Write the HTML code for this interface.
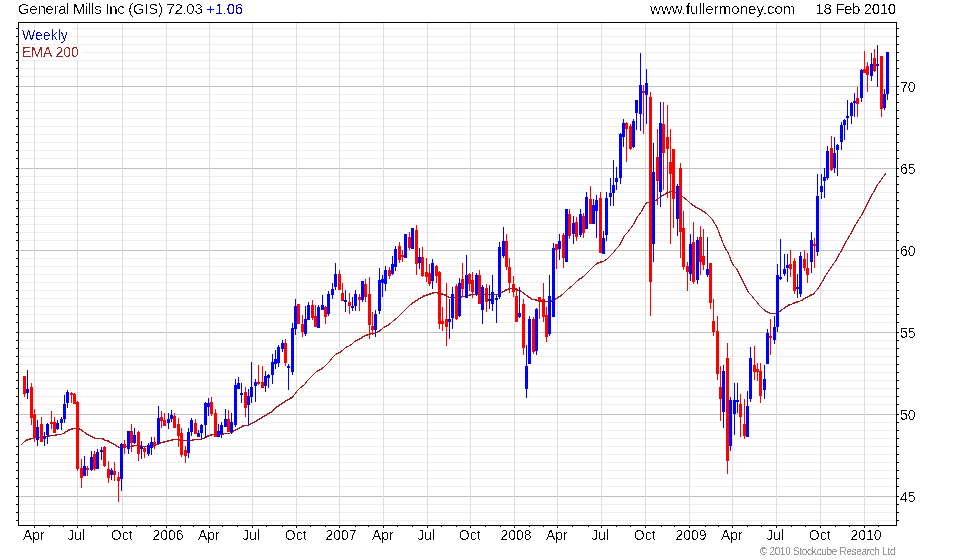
<!DOCTYPE html>
<html lang="en"><head><meta charset="utf-8"><title>General Mills Inc (GIS) Weekly</title>
<style>html,body{margin:0;padding:0;background:#fff}body{width:980px;height:560px;overflow:hidden}svg{display:block}text{font-family:"Liberation Sans",Arial,sans-serif;}</style>
</head><body>
<svg width="980" height="560" viewBox="0 0 980 560">
<rect x="0" y="0" width="980" height="560" fill="#fff"/>
<g shape-rendering="crispEdges">
<g fill="#efefef">
<rect x="20" y="28" width="875" height="1"/>
<rect x="20" y="36" width="875" height="1"/>
<rect x="20" y="44" width="875" height="1"/>
<rect x="20" y="52" width="875" height="1"/>
<rect x="20" y="60" width="875" height="1"/>
<rect x="20" y="68" width="875" height="1"/>
<rect x="20" y="76" width="875" height="1"/>
<rect x="20" y="94" width="875" height="1"/>
<rect x="20" y="102" width="875" height="1"/>
<rect x="20" y="110" width="875" height="1"/>
<rect x="20" y="118" width="875" height="1"/>
<rect x="20" y="126" width="875" height="1"/>
<rect x="20" y="134" width="875" height="1"/>
<rect x="20" y="142" width="875" height="1"/>
<rect x="20" y="150" width="875" height="1"/>
<rect x="20" y="158" width="875" height="1"/>
<rect x="20" y="176" width="875" height="1"/>
<rect x="20" y="184" width="875" height="1"/>
<rect x="20" y="192" width="875" height="1"/>
<rect x="20" y="200" width="875" height="1"/>
<rect x="20" y="208" width="875" height="1"/>
<rect x="20" y="216" width="875" height="1"/>
<rect x="20" y="224" width="875" height="1"/>
<rect x="20" y="232" width="875" height="1"/>
<rect x="20" y="240" width="875" height="1"/>
<rect x="20" y="258" width="875" height="1"/>
<rect x="20" y="266" width="875" height="1"/>
<rect x="20" y="274" width="875" height="1"/>
<rect x="20" y="282" width="875" height="1"/>
<rect x="20" y="290" width="875" height="1"/>
<rect x="20" y="298" width="875" height="1"/>
<rect x="20" y="306" width="875" height="1"/>
<rect x="20" y="314" width="875" height="1"/>
<rect x="20" y="322" width="875" height="1"/>
<rect x="20" y="340" width="875" height="1"/>
<rect x="20" y="348" width="875" height="1"/>
<rect x="20" y="356" width="875" height="1"/>
<rect x="20" y="364" width="875" height="1"/>
<rect x="20" y="372" width="875" height="1"/>
<rect x="20" y="380" width="875" height="1"/>
<rect x="20" y="388" width="875" height="1"/>
<rect x="20" y="396" width="875" height="1"/>
<rect x="20" y="404" width="875" height="1"/>
<rect x="20" y="422" width="875" height="1"/>
<rect x="20" y="430" width="875" height="1"/>
<rect x="20" y="438" width="875" height="1"/>
<rect x="20" y="446" width="875" height="1"/>
<rect x="20" y="454" width="875" height="1"/>
<rect x="20" y="462" width="875" height="1"/>
<rect x="20" y="470" width="875" height="1"/>
<rect x="20" y="478" width="875" height="1"/>
<rect x="20" y="486" width="875" height="1"/>
<rect x="20" y="504" width="875" height="1"/>
<rect x="20" y="512" width="875" height="1"/>
<rect x="20" y="520" width="875" height="1"/>
</g>
<g fill="#c0c0c0">
<rect x="19" y="86" width="877" height="1"/>
<rect x="19" y="168" width="877" height="1"/>
<rect x="19" y="250" width="877" height="1"/>
<rect x="19" y="332" width="877" height="1"/>
<rect x="19" y="414" width="877" height="1"/>
<rect x="19" y="496" width="877" height="1"/>
</g>
<g fill="#dedede">
<rect x="34" y="23" width="1" height="501"/>
<rect x="77" y="23" width="1" height="501"/>
<rect x="122" y="23" width="1" height="501"/>
<rect x="166" y="23" width="1" height="501"/>
<rect x="209" y="23" width="1" height="501"/>
<rect x="252" y="23" width="1" height="501"/>
<rect x="296" y="23" width="1" height="501"/>
<rect x="339" y="23" width="1" height="501"/>
<rect x="383" y="23" width="1" height="501"/>
<rect x="427" y="23" width="1" height="501"/>
<rect x="470" y="23" width="1" height="501"/>
<rect x="514" y="23" width="1" height="501"/>
<rect x="557" y="23" width="1" height="501"/>
<rect x="601" y="23" width="1" height="501"/>
<rect x="645" y="23" width="1" height="501"/>
<rect x="689" y="23" width="1" height="501"/>
<rect x="732" y="23" width="1" height="501"/>
<rect x="776" y="23" width="1" height="501"/>
<rect x="820" y="23" width="1" height="501"/>
<rect x="864" y="23" width="1" height="501"/>
</g>
<rect x="19" y="28" width="52" height="15" fill="#fff"/><rect x="19" y="45" width="63" height="15" fill="#fff"/>
<defs><filter id="alE" x="0" y="0" width="980" height="560" filterUnits="userSpaceOnUse" color-interpolation-filters="sRGB"><feComponentTransfer><feFuncA type="discrete" tableValues="0 0 0 0 0 0 0 0 0 0 0 0 0 0 0 0 0 0 0 0 1 1 1 1 1 1 1 1 1 1 1 1 1 1 1 1 1 1 1 1 1"/></feComponentTransfer></filter></defs>
</g>
<g id="ema" filter="url(#alE)"><polyline fill="none" stroke="#a01c1c" stroke-width="1.2" stroke-linejoin="round" points="21.5,444.50 22.5,443.50 23.5,442.50 24.5,441.50 25.5,440.83 26.5,440.17 27.5,439.83 28.5,439.50 29.5,439.17 30.5,438.83 31.5,438.50 32.5,438.50 33.5,438.17 34.5,437.83 35.5,437.50 36.5,437.50 37.5,437.50 38.5,437.50 39.5,437.50 40.5,437.50 41.5,437.17 42.5,436.83 43.5,436.50 44.5,436.50 45.5,436.50 46.5,436.50 47.5,436.50 48.5,436.17 49.5,435.83 50.5,435.50 51.5,435.50 52.5,435.50 53.5,435.50 54.5,435.50 55.5,435.17 56.5,434.83 57.5,434.50 58.5,434.50 59.5,434.50 60.5,434.50 61.5,434.17 62.5,433.83 63.5,433.17 64.5,432.83 65.5,432.17 66.5,431.50 67.5,430.83 68.5,430.17 69.5,429.83 70.5,429.50 71.5,429.17 72.5,428.83 73.5,428.50 74.5,428.50 75.5,428.50 76.5,428.50 77.5,428.50 78.5,428.50 79.5,428.83 80.5,429.50 81.5,430.17 82.5,430.83 83.5,431.50 84.5,432.50 85.5,433.17 86.5,433.83 87.5,434.17 88.5,434.83 89.5,435.17 90.5,435.83 91.5,436.17 92.5,436.83 93.5,437.17 94.5,437.83 95.5,438.17 96.5,438.50 97.5,438.50 98.5,438.50 99.5,438.50 100.5,438.50 101.5,438.50 102.5,438.83 103.5,439.17 104.5,439.83 105.5,440.17 106.5,440.50 107.5,440.83 108.5,441.17 109.5,441.83 110.5,442.17 111.5,442.83 112.5,443.17 113.5,443.83 114.5,444.50 115.5,445.17 116.5,445.83 117.5,446.50 118.5,447.17 119.5,447.50 120.5,447.50 121.5,447.50 122.5,447.50 123.5,447.50 124.5,447.17 125.5,446.83 126.5,446.50 127.5,446.50 128.5,446.50 129.5,446.50 130.5,446.50 131.5,446.50 132.5,446.17 133.5,445.83 134.5,445.50 135.5,445.50 136.5,445.50 137.5,445.50 138.5,445.50 139.5,445.83 140.5,446.17 141.5,446.50 142.5,446.50 143.5,446.50 144.5,446.50 145.5,446.50 146.5,446.50 147.5,446.50 148.5,446.50 149.5,446.50 150.5,446.50 151.5,446.50 152.5,446.17 153.5,445.83 154.5,445.50 155.5,445.17 156.5,444.83 157.5,444.17 158.5,443.83 159.5,443.17 160.5,442.83 161.5,442.50 162.5,442.50 163.5,442.17 164.5,441.83 165.5,441.50 166.5,441.50 167.5,441.17 168.5,440.83 169.5,440.50 170.5,440.50 171.5,440.17 172.5,439.83 173.5,439.50 174.5,439.50 175.5,439.50 176.5,439.50 177.5,439.50 178.5,439.50 179.5,439.83 180.5,440.17 181.5,440.50 182.5,440.50 183.5,440.50 184.5,440.50 185.5,440.50 186.5,440.50 187.5,440.50 188.5,440.50 189.5,440.50 190.5,440.50 191.5,440.50 192.5,440.17 193.5,439.83 194.5,439.50 195.5,439.50 196.5,439.50 197.5,439.50 198.5,439.50 199.5,439.50 200.5,439.50 201.5,439.17 202.5,438.83 203.5,438.17 204.5,437.83 205.5,437.17 206.5,436.83 207.5,436.17 208.5,435.83 209.5,435.50 210.5,435.17 211.5,434.83 212.5,434.50 213.5,434.50 214.5,434.50 215.5,434.50 216.5,434.50 217.5,434.50 218.5,434.50 219.5,434.50 220.5,434.50 221.5,434.50 222.5,434.17 223.5,433.83 224.5,433.50 225.5,433.50 226.5,433.50 227.5,433.50 228.5,433.50 229.5,433.17 230.5,432.83 231.5,432.17 232.5,431.83 233.5,431.17 234.5,430.50 235.5,429.83 236.5,429.17 237.5,428.83 238.5,428.17 239.5,427.83 240.5,427.17 241.5,426.83 242.5,426.17 243.5,425.83 244.5,425.50 245.5,425.50 246.5,425.50 247.5,425.17 248.5,424.83 249.5,424.17 250.5,423.83 251.5,423.17 252.5,422.83 253.5,422.17 254.5,421.83 255.5,421.17 256.5,420.83 257.5,420.17 258.5,419.50 259.5,418.83 260.5,418.17 261.5,417.83 262.5,417.17 263.5,416.50 264.5,415.83 265.5,415.17 266.5,414.83 267.5,414.17 268.5,413.50 269.5,412.83 270.5,412.17 271.5,411.83 272.5,411.17 273.5,410.17 274.5,408.83 275.5,407.83 276.5,407.17 277.5,406.50 278.5,405.83 279.5,405.17 280.5,404.50 281.5,403.83 282.5,403.17 283.5,402.50 284.5,401.83 285.5,401.17 286.5,400.50 287.5,399.83 288.5,399.17 289.5,398.83 290.5,398.17 291.5,397.83 292.5,396.83 293.5,395.83 294.5,394.50 295.5,393.17 296.5,391.83 297.5,390.50 298.5,389.50 299.5,388.50 300.5,387.50 301.5,386.83 302.5,386.17 303.5,385.50 304.5,384.50 305.5,383.17 306.5,381.83 307.5,380.50 308.5,379.50 309.5,378.50 310.5,377.50 311.5,376.50 312.5,375.50 313.5,374.50 314.5,373.50 315.5,372.50 316.5,371.50 317.5,370.83 318.5,370.17 319.5,369.83 320.5,369.17 321.5,368.83 322.5,368.17 323.5,367.50 324.5,366.50 325.5,365.50 326.5,364.50 327.5,363.50 328.5,362.50 329.5,361.50 330.5,360.17 331.5,358.83 332.5,357.50 333.5,356.50 334.5,355.50 335.5,354.50 336.5,353.83 337.5,353.17 338.5,352.83 339.5,352.17 340.5,351.83 341.5,351.17 342.5,350.50 343.5,349.50 344.5,348.50 345.5,347.50 346.5,346.83 347.5,346.50 348.5,346.17 349.5,345.83 350.5,345.17 351.5,344.50 352.5,343.50 353.5,342.50 354.5,341.50 355.5,340.83 356.5,340.17 357.5,339.83 358.5,339.17 359.5,338.83 360.5,338.17 361.5,337.83 362.5,337.17 363.5,336.50 364.5,335.83 365.5,335.50 366.5,335.17 367.5,334.83 368.5,334.50 369.5,334.17 370.5,333.83 371.5,333.50 372.5,333.50 373.5,333.50 374.5,333.50 375.5,333.17 376.5,332.83 377.5,332.17 378.5,331.50 379.5,330.83 380.5,330.17 381.5,329.50 382.5,328.50 383.5,327.50 384.5,326.83 385.5,326.17 386.5,325.83 387.5,325.17 388.5,324.83 389.5,324.17 390.5,323.50 391.5,322.50 392.5,321.50 393.5,320.50 394.5,319.83 395.5,319.17 396.5,318.50 397.5,317.50 398.5,316.50 399.5,315.50 400.5,314.50 401.5,313.50 402.5,312.50 403.5,311.50 404.5,310.50 405.5,309.50 406.5,308.50 407.5,307.50 408.5,306.50 409.5,305.50 410.5,304.50 411.5,303.83 412.5,303.17 413.5,302.50 414.5,301.83 415.5,301.17 416.5,300.50 417.5,299.83 418.5,299.17 419.5,298.50 420.5,297.83 421.5,297.17 422.5,296.83 423.5,296.17 424.5,295.83 425.5,295.50 426.5,295.17 427.5,294.83 428.5,294.50 429.5,294.17 430.5,293.83 431.5,293.50 432.5,293.17 433.5,292.83 434.5,292.50 435.5,292.50 436.5,292.50 437.5,292.83 438.5,293.17 439.5,293.50 440.5,293.50 441.5,293.83 442.5,294.17 443.5,294.50 444.5,294.83 445.5,295.17 446.5,295.83 447.5,296.17 448.5,296.83 449.5,297.17 450.5,297.50 451.5,297.50 452.5,297.50 453.5,297.50 454.5,297.50 455.5,297.50 456.5,297.50 457.5,297.50 458.5,297.50 459.5,297.50 460.5,297.17 461.5,296.83 462.5,296.50 463.5,296.50 464.5,296.50 465.5,296.17 466.5,295.83 467.5,295.50 468.5,295.50 469.5,295.17 470.5,294.83 471.5,294.50 472.5,294.50 473.5,294.50 474.5,294.50 475.5,294.50 476.5,294.50 477.5,294.50 478.5,294.50 479.5,294.50 480.5,294.50 481.5,294.50 482.5,294.50 483.5,294.50 484.5,294.50 485.5,294.50 486.5,294.50 487.5,294.50 488.5,294.50 489.5,294.50 490.5,294.50 491.5,294.50 492.5,294.50 493.5,294.50 494.5,294.50 495.5,294.83 496.5,294.83 497.5,294.83 498.5,294.17 499.5,293.50 500.5,292.83 501.5,292.17 502.5,291.83 503.5,291.17 504.5,290.83 505.5,290.17 506.5,289.83 507.5,289.50 508.5,289.17 509.5,288.83 510.5,288.50 511.5,288.50 512.5,288.50 513.5,288.50 514.5,288.50 515.5,288.83 516.5,289.17 517.5,289.83 518.5,290.17 519.5,290.50 520.5,290.83 521.5,291.50 522.5,292.50 523.5,293.17 524.5,293.83 525.5,294.50 526.5,295.50 527.5,296.17 528.5,296.83 529.5,297.50 530.5,298.17 531.5,298.83 532.5,299.17 533.5,299.50 534.5,299.50 535.5,299.83 536.5,300.17 537.5,300.50 538.5,300.50 539.5,300.50 540.5,300.50 541.5,300.83 542.5,301.17 543.5,301.50 544.5,301.50 545.5,301.50 546.5,301.50 547.5,301.50 548.5,301.50 549.5,301.50 550.5,301.17 551.5,300.83 552.5,300.50 553.5,300.17 554.5,299.83 555.5,299.17 556.5,298.50 557.5,297.83 558.5,297.17 559.5,296.50 560.5,295.83 561.5,295.17 562.5,294.50 563.5,293.50 564.5,292.50 565.5,291.50 566.5,290.50 567.5,289.50 568.5,288.50 569.5,287.83 570.5,287.17 571.5,286.50 572.5,285.50 573.5,284.50 574.5,283.50 575.5,282.50 576.5,281.50 577.5,280.50 578.5,279.83 579.5,279.17 580.5,278.50 581.5,277.83 582.5,277.17 583.5,276.50 584.5,275.50 585.5,274.50 586.5,273.50 587.5,272.50 588.5,271.50 589.5,270.50 590.5,269.50 591.5,268.50 592.5,267.50 593.5,266.50 594.5,265.50 595.5,264.50 596.5,263.83 597.5,263.17 598.5,262.83 599.5,262.50 600.5,262.17 601.5,261.83 602.5,261.50 603.5,261.17 604.5,260.83 605.5,260.17 606.5,259.50 607.5,258.50 608.5,257.50 609.5,256.50 610.5,255.50 611.5,254.50 612.5,253.50 613.5,252.50 614.5,251.17 615.5,249.83 616.5,248.50 617.5,247.50 618.5,246.50 619.5,245.17 620.5,243.50 621.5,241.50 622.5,239.50 623.5,237.50 624.5,235.83 625.5,234.50 626.5,233.50 627.5,232.50 628.5,231.17 629.5,229.83 630.5,228.50 631.5,227.17 632.5,225.83 633.5,224.17 634.5,222.50 635.5,220.50 636.5,218.50 637.5,216.83 638.5,215.50 639.5,214.17 640.5,212.83 641.5,211.17 642.5,209.50 643.5,207.50 644.5,205.83 645.5,204.17 646.5,203.17 647.5,202.50 648.5,202.50 649.5,202.50 650.5,202.50 651.5,202.17 652.5,201.83 653.5,201.17 654.5,200.83 655.5,200.17 656.5,199.83 657.5,199.17 658.5,198.50 659.5,197.50 660.5,196.83 661.5,196.17 662.5,195.50 663.5,194.83 664.5,194.17 665.5,193.83 666.5,193.17 667.5,192.83 668.5,192.50 669.5,192.17 670.5,191.83 671.5,191.50 672.5,191.83 673.5,192.17 674.5,192.50 675.5,192.50 676.5,192.83 677.5,193.17 678.5,193.83 679.5,194.17 680.5,194.83 681.5,195.50 682.5,196.50 683.5,197.50 684.5,198.17 685.5,198.83 686.5,199.50 687.5,200.50 688.5,201.50 689.5,202.50 690.5,203.50 691.5,204.17 692.5,204.83 693.5,205.50 694.5,206.17 695.5,206.83 696.5,207.17 697.5,207.83 698.5,208.17 699.5,208.83 700.5,209.50 701.5,210.17 702.5,210.83 703.5,211.50 704.5,212.17 705.5,212.83 706.5,213.50 707.5,214.50 708.5,215.50 709.5,216.50 710.5,217.50 711.5,218.50 712.5,219.83 713.5,221.50 714.5,223.17 715.5,224.83 716.5,226.50 717.5,228.83 718.5,231.17 719.5,233.83 720.5,236.50 721.5,239.17 722.5,241.83 723.5,244.17 724.5,246.50 725.5,248.50 726.5,250.17 727.5,251.83 728.5,253.83 729.5,256.17 730.5,259.17 731.5,261.50 732.5,263.83 733.5,265.17 734.5,266.50 735.5,267.50 736.5,268.83 737.5,270.50 738.5,272.50 739.5,274.50 740.5,276.50 741.5,278.50 742.5,280.50 743.5,282.50 744.5,284.50 745.5,286.50 746.5,288.50 747.5,290.50 748.5,292.17 749.5,293.50 750.5,294.50 751.5,295.50 752.5,296.83 753.5,298.17 754.5,299.50 755.5,300.50 756.5,301.50 757.5,302.83 758.5,304.17 759.5,305.50 760.5,306.50 761.5,307.50 762.5,308.50 763.5,309.50 764.5,310.17 765.5,310.83 766.5,311.17 767.5,311.83 768.5,312.17 769.5,312.83 770.5,313.17 771.5,313.50 772.5,313.50 773.5,313.50 774.5,313.50 775.5,313.50 776.5,313.17 777.5,312.83 778.5,312.17 779.5,311.50 780.5,310.83 781.5,310.17 782.5,309.50 783.5,308.50 784.5,307.83 785.5,307.17 786.5,306.50 787.5,305.83 788.5,305.17 789.5,304.83 790.5,304.50 791.5,304.17 792.5,303.83 793.5,303.17 794.5,302.83 795.5,302.50 796.5,302.17 797.5,301.83 798.5,301.50 799.5,301.17 800.5,300.83 801.5,300.17 802.5,299.83 803.5,299.17 804.5,298.50 805.5,297.83 806.5,297.17 807.5,296.83 808.5,296.17 809.5,295.83 810.5,295.17 811.5,294.83 812.5,294.50 813.5,293.83 814.5,292.83 815.5,291.50 816.5,290.50 817.5,289.17 818.5,287.83 819.5,286.17 820.5,284.50 821.5,282.83 822.5,281.17 823.5,279.50 824.5,277.50 825.5,275.83 826.5,274.17 827.5,272.83 828.5,271.17 829.5,269.83 830.5,268.17 831.5,266.83 832.5,265.17 833.5,263.83 834.5,262.50 835.5,261.17 836.5,259.50 837.5,257.50 838.5,255.50 839.5,253.83 840.5,252.17 841.5,250.50 842.5,248.50 843.5,246.50 844.5,244.50 845.5,242.50 846.5,240.83 847.5,239.17 848.5,237.50 849.5,235.83 850.5,234.17 851.5,232.50 852.5,230.50 853.5,228.50 854.5,226.50 855.5,224.83 856.5,223.17 857.5,221.50 858.5,219.83 859.5,218.17 860.5,216.83 861.5,215.17 862.5,213.50 863.5,211.50 864.5,209.50 865.5,207.50 866.5,205.50 867.5,203.50 868.5,201.50 869.5,199.50 870.5,197.50 871.5,195.50 872.5,193.83 873.5,192.17 874.5,190.50 875.5,188.50 876.5,186.50 877.5,184.83 878.5,183.50 879.5,182.17 880.5,180.83 881.5,179.17 882.5,177.83 883.5,176.50 884.5,175.17 885.5,174.17 886.5,173.50"/></g>
<g shape-rendering="crispEdges">
<g fill="#ff0000"><rect x="24" y="376" width="1" height="21"/><rect x="23" y="376" width="3" height="18"/><rect x="31" y="383" width="1" height="42"/><rect x="30" y="387" width="3" height="31"/><rect x="34" y="409" width="1" height="33"/><rect x="33" y="414" width="3" height="24"/><rect x="41" y="417" width="1" height="25"/><rect x="40" y="424" width="3" height="18"/><rect x="51" y="411" width="1" height="18"/><rect x="50" y="422" width="3" height="2"/><rect x="54" y="417" width="1" height="16"/><rect x="53" y="422" width="3" height="11"/><rect x="71" y="392" width="1" height="11"/><rect x="70" y="393" width="3" height="2"/><rect x="74" y="393" width="1" height="11"/><rect x="73" y="394" width="3" height="10"/><rect x="77" y="401" width="1" height="70"/><rect x="76" y="402" width="3" height="67"/><rect x="81" y="459" width="1" height="29"/><rect x="80" y="468" width="3" height="10"/><rect x="87" y="466" width="1" height="10"/><rect x="86" y="468" width="3" height="2"/><rect x="94" y="451" width="1" height="20"/><rect x="93" y="454" width="3" height="15"/><rect x="104" y="446" width="1" height="21"/><rect x="103" y="447" width="3" height="19"/><rect x="108" y="461" width="1" height="22"/><rect x="107" y="469" width="3" height="9"/><rect x="114" y="462" width="1" height="19"/><rect x="113" y="471" width="3" height="4"/><rect x="118" y="472" width="1" height="30"/><rect x="117" y="477" width="3" height="4"/><rect x="124" y="440" width="1" height="14"/><rect x="123" y="444" width="3" height="3"/><rect x="131" y="424" width="1" height="28"/><rect x="130" y="431" width="3" height="12"/><rect x="138" y="431" width="1" height="30"/><rect x="137" y="432" width="3" height="22"/><rect x="144" y="447" width="1" height="11"/><rect x="143" y="448" width="3" height="4"/><rect x="154" y="437" width="1" height="12"/><rect x="153" y="442" width="3" height="4"/><rect x="161" y="411" width="1" height="17"/><rect x="160" y="417" width="3" height="4"/><rect x="164" y="413" width="1" height="13"/><rect x="163" y="420" width="3" height="6"/><rect x="174" y="413" width="1" height="15"/><rect x="173" y="416" width="3" height="12"/><rect x="178" y="418" width="1" height="29"/><rect x="177" y="424" width="3" height="12"/><rect x="181" y="428" width="1" height="29"/><rect x="180" y="433" width="3" height="22"/><rect x="185" y="446" width="1" height="17"/><rect x="184" y="450" width="3" height="6"/><rect x="195" y="419" width="1" height="15"/><rect x="194" y="423" width="3" height="11"/><rect x="211" y="397" width="1" height="19"/><rect x="210" y="402" width="3" height="12"/><rect x="215" y="409" width="1" height="28"/><rect x="214" y="413" width="3" height="24"/><rect x="228" y="410" width="1" height="22"/><rect x="227" y="419" width="3" height="13"/><rect x="245" y="387" width="1" height="30"/><rect x="244" y="392" width="3" height="16"/><rect x="258" y="365" width="1" height="20"/><rect x="257" y="382" width="3" height="2"/><rect x="262" y="366" width="1" height="22"/><rect x="261" y="382" width="3" height="6"/><rect x="285" y="339" width="1" height="27"/><rect x="284" y="343" width="3" height="20"/><rect x="298" y="304" width="1" height="20"/><rect x="297" y="304" width="3" height="20"/><rect x="302" y="315" width="1" height="22"/><rect x="301" y="324" width="3" height="8"/><rect x="312" y="300" width="1" height="20"/><rect x="311" y="305" width="3" height="13"/><rect x="315" y="305" width="1" height="22"/><rect x="314" y="316" width="3" height="11"/><rect x="325" y="306" width="1" height="18"/><rect x="324" y="307" width="3" height="10"/><rect x="339" y="270" width="1" height="20"/><rect x="338" y="274" width="3" height="16"/><rect x="342" y="283" width="1" height="18"/><rect x="341" y="293" width="3" height="8"/><rect x="349" y="293" width="1" height="21"/><rect x="348" y="302" width="3" height="4"/><rect x="359" y="294" width="1" height="17"/><rect x="358" y="297" width="3" height="3"/><rect x="365" y="279" width="1" height="23"/><rect x="364" y="284" width="3" height="13"/><rect x="369" y="277" width="1" height="62"/><rect x="368" y="294" width="3" height="31"/><rect x="372" y="312" width="1" height="23"/><rect x="371" y="326" width="3" height="4"/><rect x="389" y="267" width="1" height="12"/><rect x="388" y="270" width="3" height="6"/><rect x="399" y="242" width="1" height="21"/><rect x="398" y="246" width="3" height="14"/><rect x="402" y="250" width="1" height="12"/><rect x="401" y="255" width="3" height="2"/><rect x="409" y="232" width="1" height="18"/><rect x="408" y="237" width="3" height="11"/><rect x="416" y="225" width="1" height="50"/><rect x="415" y="230" width="3" height="34"/><rect x="422" y="247" width="1" height="30"/><rect x="421" y="257" width="3" height="19"/><rect x="426" y="258" width="1" height="24"/><rect x="425" y="272" width="3" height="5"/><rect x="429" y="264" width="1" height="22"/><rect x="428" y="273" width="3" height="11"/><rect x="436" y="265" width="1" height="18"/><rect x="435" y="266" width="3" height="10"/><rect x="439" y="271" width="1" height="58"/><rect x="438" y="272" width="3" height="52"/><rect x="442" y="307" width="1" height="24"/><rect x="441" y="321" width="3" height="3"/><rect x="446" y="283" width="1" height="63"/><rect x="445" y="319" width="3" height="8"/><rect x="456" y="284" width="1" height="36"/><rect x="455" y="286" width="3" height="33"/><rect x="462" y="263" width="1" height="33"/><rect x="461" y="279" width="3" height="10"/><rect x="469" y="273" width="1" height="18"/><rect x="468" y="274" width="3" height="10"/><rect x="472" y="272" width="1" height="26"/><rect x="471" y="280" width="3" height="12"/><rect x="479" y="270" width="1" height="34"/><rect x="478" y="275" width="3" height="29"/><rect x="486" y="284" width="1" height="28"/><rect x="485" y="288" width="3" height="14"/><rect x="506" y="234" width="1" height="36"/><rect x="505" y="241" width="3" height="26"/><rect x="509" y="258" width="1" height="35"/><rect x="508" y="267" width="3" height="16"/><rect x="513" y="276" width="1" height="21"/><rect x="512" y="284" width="3" height="8"/><rect x="516" y="288" width="1" height="34"/><rect x="515" y="296" width="3" height="26"/><rect x="523" y="299" width="1" height="56"/><rect x="522" y="304" width="3" height="44"/><rect x="533" y="317" width="1" height="37"/><rect x="532" y="319" width="3" height="33"/><rect x="539" y="297" width="1" height="22"/><rect x="538" y="297" width="3" height="5"/><rect x="543" y="283" width="1" height="39"/><rect x="542" y="299" width="3" height="18"/><rect x="546" y="307" width="1" height="35"/><rect x="545" y="315" width="3" height="22"/><rect x="556" y="244" width="1" height="25"/><rect x="555" y="244" width="3" height="6"/><rect x="563" y="233" width="1" height="35"/><rect x="562" y="235" width="3" height="23"/><rect x="569" y="209" width="1" height="30"/><rect x="568" y="214" width="3" height="22"/><rect x="576" y="217" width="1" height="24"/><rect x="575" y="222" width="3" height="15"/><rect x="583" y="213" width="1" height="25"/><rect x="582" y="216" width="3" height="17"/><rect x="590" y="186" width="1" height="38"/><rect x="589" y="199" width="3" height="25"/><rect x="600" y="192" width="1" height="61"/><rect x="599" y="198" width="3" height="55"/><rect x="626" y="122" width="1" height="40"/><rect x="625" y="123" width="3" height="6"/><rect x="630" y="124" width="1" height="26"/><rect x="629" y="126" width="3" height="23"/><rect x="643" y="85" width="1" height="49"/><rect x="642" y="91" width="3" height="2"/><rect x="650" y="92" width="1" height="224"/><rect x="649" y="97" width="3" height="185"/><rect x="657" y="129" width="1" height="76"/><rect x="656" y="157" width="3" height="24"/><rect x="663" y="102" width="1" height="88"/><rect x="662" y="124" width="3" height="29"/><rect x="667" y="105" width="1" height="93"/><rect x="666" y="137" width="3" height="12"/><rect x="670" y="129" width="1" height="115"/><rect x="669" y="162" width="3" height="12"/><rect x="673" y="149" width="1" height="79"/><rect x="672" y="149" width="3" height="50"/><rect x="680" y="163" width="1" height="95"/><rect x="679" y="168" width="3" height="64"/><rect x="683" y="211" width="1" height="59"/><rect x="682" y="228" width="3" height="39"/><rect x="687" y="262" width="1" height="29"/><rect x="686" y="266" width="3" height="6"/><rect x="693" y="222" width="1" height="62"/><rect x="692" y="242" width="3" height="40"/><rect x="700" y="226" width="1" height="49"/><rect x="699" y="237" width="3" height="25"/><rect x="703" y="229" width="1" height="41"/><rect x="702" y="256" width="3" height="9"/><rect x="710" y="263" width="1" height="46"/><rect x="709" y="263" width="3" height="40"/><rect x="713" y="299" width="1" height="37"/><rect x="712" y="321" width="3" height="11"/><rect x="717" y="316" width="1" height="64"/><rect x="716" y="331" width="3" height="43"/><rect x="720" y="366" width="1" height="55"/><rect x="719" y="387" width="3" height="12"/><rect x="727" y="343" width="1" height="131"/><rect x="726" y="358" width="3" height="103"/><rect x="740" y="394" width="1" height="43"/><rect x="739" y="404" width="3" height="13"/><rect x="744" y="399" width="1" height="40"/><rect x="743" y="424" width="3" height="12"/><rect x="754" y="346" width="1" height="34"/><rect x="753" y="365" width="3" height="7"/><rect x="757" y="363" width="1" height="18"/><rect x="756" y="369" width="3" height="3"/><rect x="760" y="363" width="1" height="40"/><rect x="759" y="371" width="3" height="25"/><rect x="770" y="319" width="1" height="36"/><rect x="769" y="336" width="3" height="2"/><rect x="790" y="250" width="1" height="27"/><rect x="789" y="264" width="3" height="5"/><rect x="794" y="258" width="1" height="36"/><rect x="793" y="261" width="3" height="30"/><rect x="804" y="250" width="1" height="21"/><rect x="803" y="259" width="3" height="9"/><rect x="807" y="253" width="1" height="30"/><rect x="806" y="268" width="3" height="7"/><rect x="814" y="238" width="1" height="30"/><rect x="813" y="244" width="3" height="2"/><rect x="831" y="136" width="1" height="35"/><rect x="830" y="148" width="3" height="22"/><rect x="857" y="87" width="1" height="30"/><rect x="856" y="98" width="3" height="6"/><rect x="864" y="51" width="1" height="22"/><rect x="863" y="69" width="3" height="4"/><rect x="867" y="62" width="1" height="30"/><rect x="866" y="66" width="3" height="9"/><rect x="874" y="49" width="1" height="23"/><rect x="873" y="58" width="3" height="13"/><rect x="881" y="56" width="1" height="61"/><rect x="880" y="56" width="3" height="53"/></g>
<g fill="#0000ff"><rect x="27" y="370" width="1" height="29"/><rect x="26" y="389" width="3" height="4"/><rect x="37" y="420" width="1" height="26"/><rect x="36" y="427" width="3" height="13"/><rect x="44" y="432" width="1" height="14"/><rect x="43" y="436" width="3" height="3"/><rect x="47" y="423" width="1" height="21"/><rect x="46" y="424" width="3" height="11"/><rect x="57" y="420" width="1" height="10"/><rect x="56" y="423" width="3" height="6"/><rect x="61" y="417" width="1" height="13"/><rect x="60" y="419" width="3" height="4"/><rect x="64" y="395" width="1" height="28"/><rect x="63" y="404" width="3" height="15"/><rect x="67" y="390" width="1" height="18"/><rect x="66" y="392" width="3" height="11"/><rect x="84" y="456" width="1" height="20"/><rect x="83" y="466" width="3" height="10"/><rect x="91" y="451" width="1" height="20"/><rect x="90" y="457" width="3" height="13"/><rect x="97" y="449" width="1" height="20"/><rect x="96" y="452" width="3" height="17"/><rect x="101" y="447" width="1" height="13"/><rect x="100" y="450" width="3" height="2"/><rect x="111" y="468" width="1" height="12"/><rect x="110" y="470" width="3" height="5"/><rect x="121" y="443" width="1" height="48"/><rect x="120" y="444" width="3" height="35"/><rect x="128" y="431" width="1" height="23"/><rect x="127" y="431" width="3" height="18"/><rect x="134" y="428" width="1" height="16"/><rect x="133" y="435" width="3" height="8"/><rect x="141" y="441" width="1" height="18"/><rect x="140" y="447" width="3" height="2"/><rect x="148" y="443" width="1" height="13"/><rect x="147" y="445" width="3" height="9"/><rect x="151" y="437" width="1" height="18"/><rect x="150" y="442" width="3" height="6"/><rect x="158" y="406" width="1" height="38"/><rect x="157" y="418" width="3" height="26"/><rect x="168" y="413" width="1" height="16"/><rect x="167" y="419" width="3" height="4"/><rect x="171" y="410" width="1" height="12"/><rect x="170" y="415" width="3" height="4"/><rect x="188" y="428" width="1" height="30"/><rect x="187" y="432" width="3" height="21"/><rect x="191" y="418" width="1" height="18"/><rect x="190" y="420" width="3" height="12"/><rect x="198" y="430" width="1" height="7"/><rect x="197" y="433" width="3" height="4"/><rect x="201" y="424" width="1" height="15"/><rect x="200" y="425" width="3" height="8"/><rect x="205" y="402" width="1" height="36"/><rect x="204" y="403" width="3" height="22"/><rect x="208" y="398" width="1" height="18"/><rect x="207" y="403" width="3" height="4"/><rect x="218" y="424" width="1" height="13"/><rect x="217" y="431" width="3" height="6"/><rect x="221" y="422" width="1" height="16"/><rect x="220" y="425" width="3" height="9"/><rect x="225" y="409" width="1" height="18"/><rect x="224" y="419" width="3" height="8"/><rect x="231" y="413" width="1" height="21"/><rect x="230" y="422" width="3" height="10"/><rect x="235" y="379" width="1" height="48"/><rect x="234" y="385" width="3" height="40"/><rect x="238" y="377" width="1" height="12"/><rect x="237" y="383" width="3" height="6"/><rect x="241" y="383" width="1" height="20"/><rect x="240" y="393" width="3" height="2"/><rect x="248" y="389" width="1" height="37"/><rect x="247" y="396" width="3" height="9"/><rect x="251" y="362" width="1" height="41"/><rect x="250" y="387" width="3" height="10"/><rect x="255" y="379" width="1" height="23"/><rect x="254" y="382" width="3" height="4"/><rect x="265" y="371" width="1" height="21"/><rect x="264" y="376" width="3" height="10"/><rect x="268" y="374" width="1" height="14"/><rect x="267" y="375" width="3" height="3"/><rect x="272" y="354" width="1" height="30"/><rect x="271" y="362" width="3" height="13"/><rect x="275" y="350" width="1" height="19"/><rect x="274" y="359" width="3" height="5"/><rect x="278" y="345" width="1" height="22"/><rect x="277" y="347" width="3" height="16"/><rect x="282" y="340" width="1" height="12"/><rect x="281" y="343" width="3" height="6"/><rect x="288" y="364" width="1" height="26"/><rect x="287" y="366" width="3" height="2"/><rect x="292" y="323" width="1" height="52"/><rect x="291" y="328" width="3" height="44"/><rect x="295" y="299" width="1" height="36"/><rect x="294" y="306" width="3" height="23"/><rect x="305" y="306" width="1" height="30"/><rect x="304" y="319" width="3" height="15"/><rect x="308" y="302" width="1" height="18"/><rect x="307" y="305" width="3" height="15"/><rect x="318" y="305" width="1" height="23"/><rect x="317" y="307" width="3" height="21"/><rect x="322" y="295" width="1" height="15"/><rect x="321" y="305" width="3" height="5"/><rect x="328" y="291" width="1" height="25"/><rect x="327" y="294" width="3" height="20"/><rect x="332" y="283" width="1" height="16"/><rect x="331" y="289" width="3" height="6"/><rect x="335" y="263" width="1" height="27"/><rect x="334" y="274" width="3" height="13"/><rect x="345" y="290" width="1" height="22"/><rect x="344" y="300" width="3" height="2"/><rect x="352" y="297" width="1" height="14"/><rect x="351" y="306" width="3" height="2"/><rect x="355" y="290" width="1" height="21"/><rect x="354" y="294" width="3" height="12"/><rect x="362" y="281" width="1" height="21"/><rect x="361" y="281" width="3" height="19"/><rect x="375" y="310" width="1" height="27"/><rect x="374" y="314" width="3" height="16"/><rect x="379" y="268" width="1" height="46"/><rect x="378" y="280" width="3" height="31"/><rect x="382" y="275" width="1" height="22"/><rect x="381" y="279" width="3" height="4"/><rect x="385" y="266" width="1" height="25"/><rect x="384" y="270" width="3" height="14"/><rect x="392" y="256" width="1" height="19"/><rect x="391" y="264" width="3" height="10"/><rect x="395" y="246" width="1" height="25"/><rect x="394" y="249" width="3" height="18"/><rect x="405" y="234" width="1" height="24"/><rect x="404" y="234" width="3" height="24"/><rect x="412" y="228" width="1" height="21"/><rect x="411" y="228" width="3" height="21"/><rect x="419" y="248" width="1" height="21"/><rect x="418" y="257" width="3" height="6"/><rect x="432" y="259" width="1" height="30"/><rect x="431" y="263" width="3" height="18"/><rect x="449" y="299" width="1" height="40"/><rect x="448" y="319" width="3" height="3"/><rect x="452" y="287" width="1" height="42"/><rect x="451" y="294" width="3" height="24"/><rect x="459" y="278" width="1" height="39"/><rect x="458" y="283" width="3" height="33"/><rect x="466" y="255" width="1" height="43"/><rect x="465" y="275" width="3" height="23"/><rect x="476" y="273" width="1" height="23"/><rect x="475" y="275" width="3" height="19"/><rect x="482" y="285" width="1" height="39"/><rect x="481" y="287" width="3" height="23"/><rect x="489" y="285" width="1" height="24"/><rect x="488" y="299" width="3" height="2"/><rect x="492" y="275" width="1" height="36"/><rect x="491" y="292" width="3" height="12"/><rect x="496" y="296" width="1" height="27"/><rect x="495" y="298" width="3" height="2"/><rect x="499" y="242" width="1" height="57"/><rect x="498" y="247" width="3" height="50"/><rect x="503" y="227" width="1" height="31"/><rect x="502" y="241" width="3" height="15"/><rect x="519" y="287" width="1" height="31"/><rect x="518" y="313" width="3" height="4"/><rect x="526" y="345" width="1" height="53"/><rect x="525" y="366" width="3" height="23"/><rect x="529" y="316" width="1" height="48"/><rect x="528" y="319" width="3" height="45"/><rect x="536" y="308" width="1" height="47"/><rect x="535" y="309" width="3" height="42"/><rect x="549" y="275" width="1" height="61"/><rect x="548" y="296" width="3" height="38"/><rect x="553" y="243" width="1" height="74"/><rect x="552" y="248" width="3" height="69"/><rect x="559" y="234" width="1" height="26"/><rect x="558" y="241" width="3" height="8"/><rect x="566" y="209" width="1" height="53"/><rect x="565" y="209" width="3" height="53"/><rect x="573" y="216" width="1" height="28"/><rect x="572" y="223" width="3" height="11"/><rect x="580" y="209" width="1" height="28"/><rect x="579" y="214" width="3" height="21"/><rect x="586" y="192" width="1" height="37"/><rect x="585" y="197" width="3" height="32"/><rect x="593" y="199" width="1" height="25"/><rect x="592" y="205" width="3" height="19"/><rect x="596" y="195" width="1" height="43"/><rect x="595" y="200" width="3" height="11"/><rect x="603" y="231" width="1" height="23"/><rect x="602" y="238" width="3" height="16"/><rect x="606" y="192" width="1" height="49"/><rect x="605" y="198" width="3" height="37"/><rect x="610" y="178" width="1" height="28"/><rect x="609" y="193" width="3" height="4"/><rect x="613" y="160" width="1" height="46"/><rect x="612" y="185" width="3" height="8"/><rect x="616" y="167" width="1" height="23"/><rect x="615" y="178" width="3" height="4"/><rect x="620" y="133" width="1" height="51"/><rect x="619" y="134" width="3" height="44"/><rect x="623" y="119" width="1" height="28"/><rect x="622" y="123" width="3" height="14"/><rect x="633" y="119" width="1" height="29"/><rect x="632" y="121" width="3" height="26"/><rect x="636" y="100" width="1" height="30"/><rect x="635" y="100" width="3" height="13"/><rect x="640" y="53" width="1" height="78"/><rect x="639" y="85" width="3" height="29"/><rect x="646" y="69" width="1" height="55"/><rect x="645" y="83" width="3" height="12"/><rect x="653" y="143" width="1" height="119"/><rect x="652" y="172" width="3" height="72"/><rect x="660" y="102" width="1" height="105"/><rect x="659" y="123" width="3" height="69"/><rect x="677" y="184" width="1" height="52"/><rect x="676" y="186" width="3" height="33"/><rect x="690" y="234" width="1" height="47"/><rect x="689" y="244" width="3" height="30"/><rect x="697" y="237" width="1" height="47"/><rect x="696" y="240" width="3" height="40"/><rect x="707" y="237" width="1" height="40"/><rect x="706" y="269" width="3" height="6"/><rect x="723" y="365" width="1" height="63"/><rect x="722" y="371" width="3" height="41"/><rect x="730" y="397" width="1" height="54"/><rect x="729" y="400" width="3" height="46"/><rect x="734" y="383" width="1" height="52"/><rect x="733" y="400" width="3" height="14"/><rect x="737" y="383" width="1" height="30"/><rect x="736" y="400" width="3" height="2"/><rect x="747" y="391" width="1" height="46"/><rect x="746" y="406" width="3" height="31"/><rect x="750" y="347" width="1" height="55"/><rect x="749" y="358" width="3" height="41"/><rect x="764" y="365" width="1" height="34"/><rect x="763" y="379" width="3" height="11"/><rect x="767" y="329" width="1" height="35"/><rect x="766" y="333" width="3" height="31"/><rect x="774" y="316" width="1" height="28"/><rect x="773" y="327" width="3" height="13"/><rect x="777" y="264" width="1" height="68"/><rect x="776" y="275" width="3" height="52"/><rect x="780" y="239" width="1" height="41"/><rect x="779" y="277" width="3" height="2"/><rect x="784" y="254" width="1" height="22"/><rect x="783" y="269" width="3" height="5"/><rect x="787" y="254" width="1" height="28"/><rect x="786" y="265" width="3" height="3"/><rect x="797" y="274" width="1" height="24"/><rect x="796" y="287" width="3" height="2"/><rect x="800" y="252" width="1" height="45"/><rect x="799" y="256" width="3" height="38"/><rect x="811" y="232" width="1" height="41"/><rect x="810" y="240" width="3" height="22"/><rect x="817" y="174" width="1" height="82"/><rect x="816" y="196" width="3" height="56"/><rect x="821" y="174" width="1" height="25"/><rect x="820" y="186" width="3" height="6"/><rect x="824" y="168" width="1" height="30"/><rect x="823" y="177" width="3" height="4"/><rect x="827" y="146" width="1" height="34"/><rect x="826" y="151" width="3" height="27"/><rect x="834" y="137" width="1" height="36"/><rect x="833" y="153" width="3" height="15"/><rect x="837" y="144" width="1" height="32"/><rect x="836" y="145" width="3" height="5"/><rect x="841" y="122" width="1" height="28"/><rect x="840" y="125" width="3" height="17"/><rect x="844" y="119" width="1" height="21"/><rect x="843" y="120" width="3" height="5"/><rect x="847" y="100" width="1" height="30"/><rect x="846" y="116" width="3" height="2"/><rect x="851" y="102" width="1" height="22"/><rect x="850" y="103" width="3" height="13"/><rect x="854" y="93" width="1" height="24"/><rect x="853" y="101" width="3" height="2"/><rect x="861" y="69" width="1" height="33"/><rect x="860" y="70" width="3" height="28"/><rect x="871" y="53" width="1" height="28"/><rect x="870" y="64" width="3" height="12"/><rect x="877" y="45" width="1" height="42"/><rect x="876" y="64" width="3" height="2"/><rect x="884" y="89" width="1" height="21"/><rect x="883" y="94" width="3" height="14"/><rect x="887" y="52" width="1" height="48"/><rect x="886" y="52" width="3" height="42"/></g>
<use href="#ema" opacity="0.25"/>
<g fill="#000">
<rect x="18" y="22" width="879" height="1"/>
<rect x="18" y="525" width="879" height="1"/>
<rect x="18" y="22" width="1" height="504"/>
<rect x="896" y="22" width="1" height="504"/>
<rect x="16" y="28" width="2" height="1"/><rect x="897" y="28" width="2" height="1"/>
<rect x="16" y="36" width="2" height="1"/><rect x="897" y="36" width="2" height="1"/>
<rect x="16" y="44" width="2" height="1"/><rect x="897" y="44" width="2" height="1"/>
<rect x="16" y="52" width="2" height="1"/><rect x="897" y="52" width="2" height="1"/>
<rect x="16" y="60" width="2" height="1"/><rect x="897" y="60" width="2" height="1"/>
<rect x="16" y="68" width="2" height="1"/><rect x="897" y="68" width="2" height="1"/>
<rect x="16" y="76" width="2" height="1"/><rect x="897" y="76" width="2" height="1"/>
<rect x="16" y="94" width="2" height="1"/><rect x="897" y="94" width="2" height="1"/>
<rect x="16" y="102" width="2" height="1"/><rect x="897" y="102" width="2" height="1"/>
<rect x="16" y="110" width="2" height="1"/><rect x="897" y="110" width="2" height="1"/>
<rect x="16" y="118" width="2" height="1"/><rect x="897" y="118" width="2" height="1"/>
<rect x="16" y="126" width="2" height="1"/><rect x="897" y="126" width="2" height="1"/>
<rect x="16" y="134" width="2" height="1"/><rect x="897" y="134" width="2" height="1"/>
<rect x="16" y="142" width="2" height="1"/><rect x="897" y="142" width="2" height="1"/>
<rect x="16" y="150" width="2" height="1"/><rect x="897" y="150" width="2" height="1"/>
<rect x="16" y="158" width="2" height="1"/><rect x="897" y="158" width="2" height="1"/>
<rect x="16" y="176" width="2" height="1"/><rect x="897" y="176" width="2" height="1"/>
<rect x="16" y="184" width="2" height="1"/><rect x="897" y="184" width="2" height="1"/>
<rect x="16" y="192" width="2" height="1"/><rect x="897" y="192" width="2" height="1"/>
<rect x="16" y="200" width="2" height="1"/><rect x="897" y="200" width="2" height="1"/>
<rect x="16" y="208" width="2" height="1"/><rect x="897" y="208" width="2" height="1"/>
<rect x="16" y="216" width="2" height="1"/><rect x="897" y="216" width="2" height="1"/>
<rect x="16" y="224" width="2" height="1"/><rect x="897" y="224" width="2" height="1"/>
<rect x="16" y="232" width="2" height="1"/><rect x="897" y="232" width="2" height="1"/>
<rect x="16" y="240" width="2" height="1"/><rect x="897" y="240" width="2" height="1"/>
<rect x="16" y="258" width="2" height="1"/><rect x="897" y="258" width="2" height="1"/>
<rect x="16" y="266" width="2" height="1"/><rect x="897" y="266" width="2" height="1"/>
<rect x="16" y="274" width="2" height="1"/><rect x="897" y="274" width="2" height="1"/>
<rect x="16" y="282" width="2" height="1"/><rect x="897" y="282" width="2" height="1"/>
<rect x="16" y="290" width="2" height="1"/><rect x="897" y="290" width="2" height="1"/>
<rect x="16" y="298" width="2" height="1"/><rect x="897" y="298" width="2" height="1"/>
<rect x="16" y="306" width="2" height="1"/><rect x="897" y="306" width="2" height="1"/>
<rect x="16" y="314" width="2" height="1"/><rect x="897" y="314" width="2" height="1"/>
<rect x="16" y="322" width="2" height="1"/><rect x="897" y="322" width="2" height="1"/>
<rect x="16" y="340" width="2" height="1"/><rect x="897" y="340" width="2" height="1"/>
<rect x="16" y="348" width="2" height="1"/><rect x="897" y="348" width="2" height="1"/>
<rect x="16" y="356" width="2" height="1"/><rect x="897" y="356" width="2" height="1"/>
<rect x="16" y="364" width="2" height="1"/><rect x="897" y="364" width="2" height="1"/>
<rect x="16" y="372" width="2" height="1"/><rect x="897" y="372" width="2" height="1"/>
<rect x="16" y="380" width="2" height="1"/><rect x="897" y="380" width="2" height="1"/>
<rect x="16" y="388" width="2" height="1"/><rect x="897" y="388" width="2" height="1"/>
<rect x="16" y="396" width="2" height="1"/><rect x="897" y="396" width="2" height="1"/>
<rect x="16" y="404" width="2" height="1"/><rect x="897" y="404" width="2" height="1"/>
<rect x="16" y="422" width="2" height="1"/><rect x="897" y="422" width="2" height="1"/>
<rect x="16" y="430" width="2" height="1"/><rect x="897" y="430" width="2" height="1"/>
<rect x="16" y="438" width="2" height="1"/><rect x="897" y="438" width="2" height="1"/>
<rect x="16" y="446" width="2" height="1"/><rect x="897" y="446" width="2" height="1"/>
<rect x="16" y="454" width="2" height="1"/><rect x="897" y="454" width="2" height="1"/>
<rect x="16" y="462" width="2" height="1"/><rect x="897" y="462" width="2" height="1"/>
<rect x="16" y="470" width="2" height="1"/><rect x="897" y="470" width="2" height="1"/>
<rect x="16" y="478" width="2" height="1"/><rect x="897" y="478" width="2" height="1"/>
<rect x="16" y="486" width="2" height="1"/><rect x="897" y="486" width="2" height="1"/>
<rect x="16" y="504" width="2" height="1"/><rect x="897" y="504" width="2" height="1"/>
<rect x="16" y="512" width="2" height="1"/><rect x="897" y="512" width="2" height="1"/>
<rect x="16" y="520" width="2" height="1"/><rect x="897" y="520" width="2" height="1"/>
<rect x="16" y="86" width="2" height="1"/><rect x="897" y="86" width="2" height="1"/>
<rect x="16" y="168" width="2" height="1"/><rect x="897" y="168" width="2" height="1"/>
<rect x="16" y="250" width="2" height="1"/><rect x="897" y="250" width="2" height="1"/>
<rect x="16" y="332" width="2" height="1"/><rect x="897" y="332" width="2" height="1"/>
<rect x="16" y="414" width="2" height="1"/><rect x="897" y="414" width="2" height="1"/>
<rect x="16" y="496" width="2" height="1"/><rect x="897" y="496" width="2" height="1"/>
<rect x="34" y="526" width="1" height="2"/>
<rect x="77" y="526" width="1" height="2"/>
<rect x="122" y="526" width="1" height="2"/>
<rect x="166" y="526" width="1" height="2"/>
<rect x="209" y="526" width="1" height="2"/>
<rect x="252" y="526" width="1" height="2"/>
<rect x="296" y="526" width="1" height="2"/>
<rect x="339" y="526" width="1" height="2"/>
<rect x="383" y="526" width="1" height="2"/>
<rect x="427" y="526" width="1" height="2"/>
<rect x="470" y="526" width="1" height="2"/>
<rect x="514" y="526" width="1" height="2"/>
<rect x="557" y="526" width="1" height="2"/>
<rect x="601" y="526" width="1" height="2"/>
<rect x="645" y="526" width="1" height="2"/>
<rect x="689" y="526" width="1" height="2"/>
<rect x="732" y="526" width="1" height="2"/>
<rect x="776" y="526" width="1" height="2"/>
<rect x="820" y="526" width="1" height="2"/>
<rect x="864" y="526" width="1" height="2"/>
<rect x="49" y="526" width="1" height="1"/>
<rect x="63" y="526" width="1" height="1"/>
<rect x="91" y="526" width="1" height="1"/>
<rect x="107" y="526" width="1" height="1"/>
<rect x="136" y="526" width="1" height="1"/>
<rect x="150" y="526" width="1" height="1"/>
<rect x="180" y="526" width="1" height="1"/>
<rect x="193" y="526" width="1" height="1"/>
<rect x="222" y="526" width="1" height="1"/>
<rect x="237" y="526" width="1" height="1"/>
<rect x="266" y="526" width="1" height="1"/>
<rect x="282" y="526" width="1" height="1"/>
<rect x="310" y="526" width="1" height="1"/>
<rect x="325" y="526" width="1" height="1"/>
<rect x="355" y="526" width="1" height="1"/>
<rect x="368" y="526" width="1" height="1"/>
<rect x="397" y="526" width="1" height="1"/>
<rect x="412" y="526" width="1" height="1"/>
<rect x="441" y="526" width="1" height="1"/>
<rect x="456" y="526" width="1" height="1"/>
<rect x="485" y="526" width="1" height="1"/>
<rect x="500" y="526" width="1" height="1"/>
<rect x="529" y="526" width="1" height="1"/>
<rect x="543" y="526" width="1" height="1"/>
<rect x="572" y="526" width="1" height="1"/>
<rect x="588" y="526" width="1" height="1"/>
<rect x="616" y="526" width="1" height="1"/>
<rect x="630" y="526" width="1" height="1"/>
<rect x="661" y="526" width="1" height="1"/>
<rect x="674" y="526" width="1" height="1"/>
<rect x="705" y="526" width="1" height="1"/>
<rect x="718" y="526" width="1" height="1"/>
<rect x="747" y="526" width="1" height="1"/>
<rect x="761" y="526" width="1" height="1"/>
<rect x="791" y="526" width="1" height="1"/>
<rect x="805" y="526" width="1" height="1"/>
<rect x="835" y="526" width="1" height="1"/>
<rect x="849" y="526" width="1" height="1"/>
<rect x="878" y="526" width="1" height="1"/>
</g>
</g>
<defs>
<filter id="al" x="0" y="0" width="980" height="560" filterUnits="userSpaceOnUse" color-interpolation-filters="sRGB"><feComponentTransfer><feFuncA type="discrete" tableValues="0 0 0 0 0 0 0 0 0 0 0 0 0 0 0 0 0 0 0 0 0 0 0 0 1 1 1 1 1 1 1 1 1 1 1 1 1 1 1 1 1"/></feComponentTransfer></filter>
<filter id="al2" x="0" y="0" width="980" height="560" filterUnits="userSpaceOnUse" color-interpolation-filters="sRGB"><feComponentTransfer><feFuncA type="discrete" tableValues="0 0 0 0 0 0 0 0 0 0 0 0 0 0 0 0 0 0 0 0 0 0 0 0 1 1 1 1 1 1 1 1 1 1 1 1 1 1 1 1 1"/></feComponentTransfer></filter>
<filter id="al3" x="0" y="0" width="980" height="560" filterUnits="userSpaceOnUse" color-interpolation-filters="sRGB"><feComponentTransfer><feFuncA type="discrete" tableValues="0 0 0 0 0 0 0 0 0 0 0 0 0 0 0 0 0 0 1 1 1 1 1 1 1 1 1 1 1 1 1 1 1 1 1 1 1 1 1 1 1"/></feComponentTransfer></filter>
</defs>
<g id="ttl" filter="url(#al2)">
<text x="18" y="14" font-size="15" fill="#000" textLength="225" lengthAdjust="spacing">General Mills Inc (GIS) 72.03 <tspan fill="#0000c0">+1.06</tspan></text>
<text x="650" y="14" font-size="15" fill="#000" textLength="145.5" lengthAdjust="spacing">www.fullermoney.com</text>
<text x="815.5" y="14" font-size="15" fill="#000" textLength="80.5" lengthAdjust="spacing">18 Feb 2010</text>
</g>
<g id="cpr" filter="url(#al3)">
<text x="895.5" y="555" font-size="10" fill="#999999" text-anchor="end" textLength="135.5" lengthAdjust="spacing">© 2010 Stockcube Research Ltd</text>
</g>
<g id="txt" filter="url(#al)">
<text x="22" y="40" font-size="14" fill="#0000c0">Weekly</text>
<text x="22" y="57" font-size="14" fill="#a32424">EMA 200</text>
<text x="900" y="92" font-size="14" fill="#000">70</text>
<text x="900" y="174" font-size="14" fill="#000">65</text>
<text x="900" y="256" font-size="14" fill="#000">60</text>
<text x="900" y="338" font-size="14" fill="#000">55</text>
<text x="900" y="420" font-size="14" fill="#000">50</text>
<text x="900" y="502" font-size="14" fill="#000">45</text>
<text x="23" y="540" font-size="14" fill="#000">Apr</text>
<text x="67" y="540" font-size="14" fill="#000">Jul</text>
<text x="110.8" y="540" font-size="14" fill="#000">Oct</text>
<text x="152.4" y="540" font-size="14" fill="#000">2006</text>
<text x="198" y="540" font-size="14" fill="#000">Apr</text>
<text x="242" y="540" font-size="14" fill="#000">Jul</text>
<text x="284.8" y="540" font-size="14" fill="#000">Oct</text>
<text x="325.4" y="540" font-size="14" fill="#000">2007</text>
<text x="372" y="540" font-size="14" fill="#000">Apr</text>
<text x="417" y="540" font-size="14" fill="#000">Jul</text>
<text x="458.8" y="540" font-size="14" fill="#000">Oct</text>
<text x="500.4" y="540" font-size="14" fill="#000">2008</text>
<text x="546" y="540" font-size="14" fill="#000">Apr</text>
<text x="591" y="540" font-size="14" fill="#000">Jul</text>
<text x="633.8" y="540" font-size="14" fill="#000">Oct</text>
<text x="675.4" y="540" font-size="14" fill="#000">2009</text>
<text x="721" y="540" font-size="14" fill="#000">Apr</text>
<text x="766" y="540" font-size="14" fill="#000">Jul</text>
<text x="808.8" y="540" font-size="14" fill="#000">Oct</text>
<text x="850.4" y="540" font-size="14" fill="#000">2010</text>
</g>
</svg>
</body></html>
